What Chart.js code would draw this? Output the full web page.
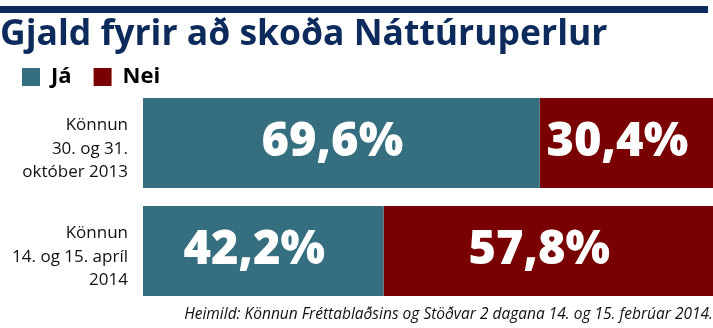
<!DOCTYPE html>
<html>
<head>
<meta charset="utf-8">
<script src="https://cdn.jsdelivr.net/npm/chart.js@4/dist/chart.umd.min.js"></script>
<style>
  html, body { margin: 0; padding: 0; background: #fff; }
  #wrap { width: 713px; height: 328px; }
</style>
</head>
<body>
<div id="wrap"><canvas id="myChart" width="713" height="328"></canvas></div>
<script>
// Gögn úr myndinni
const kannanir = [
  ['Könnun', '30. og 31.', 'október 2013'],
  ['Könnun', '14. og 15. apríl', '2014']
];
const ja = [69.6, 42.2];
const nei = [30.4, 57.8];

const navy = '#0c2b5c';
const teal = '#346e7f';
const rautt = '#7a0101';

// lína efst
const topRule = {
  id: 'topRule',
  beforeDraw(chart) {
    const c = chart.ctx;
    c.save();
    c.fillStyle = navy;
    c.fillRect(0, 6, 708, 7);
    c.restore();
  }
};

// prósentutölur inni í súlunum
const barLabels = {
  id: 'barLabels',
  afterDatasetsDraw(chart) {
    const c = chart.ctx;
    c.save();
    c.fillStyle = '#fff';
    c.font = '800 47px "Open Sans"';
    c.textAlign = 'center';
    c.textBaseline = 'middle';
    chart.data.datasets.forEach((ds, i) => {
      chart.getDatasetMeta(i).data.forEach((bar, j) => {
        const p = bar.getProps(['x', 'y', 'base'], true);
        const txt = ds.data[j].toFixed(1).replace('.', ',') + '%';
        c.fillText(txt, (p.x + p.base) / 2 - 9, p.y);
      });
    });
    c.restore();
  }
};

const ctx = document.getElementById('myChart').getContext('2d');
let chart = new Chart(ctx, {
  type: 'bar',
  data: {
    labels: kannanir,
    datasets: [
      { label: 'Já', data: ja, backgroundColor: teal, borderWidth: 0 },
      { label: 'Nei', data: nei, backgroundColor: rautt, borderWidth: 0 }
    ]
  },
  options: {
    indexAxis: 'y',
    responsive: false,
    animation: false,
    layout: { padding: 0 },
    barPercentage: 0.833,
    categoryPercentage: 1,
    scales: {
      x: { stacked: true, min: 0, max: 100, display: false },
      y: {
        stacked: true,
        grid: { display: false, drawTicks: false },
        border: { display: false },
        ticks: {
          color: '#111',
          font: { family: '"Open Sans"', size: 17, lineHeight: 1.38 },
          padding: 15,
          labelOffset: 6
        },
        afterFit(axis) {
          axis.width = 143;
          axis.paddingTop = 0;
          axis.paddingBottom = 0;
        }
      }
    },
    plugins: {
      title: {
        display: true,
        text: 'Gjald fyrir að skoða Náttúruperlur',
        align: 'start',
        color: navy,
        font: { family: '"Open Sans"', size: 35.5, weight: 'bold', lineHeight: 1 },
        padding: { top: 17.5, bottom: -9 }
      },
      legend: {
        display: true,
        align: 'start',
        maxHeight: 45,
        labels: {
          color: '#000',
          boxWidth: 18,
          boxHeight: 18,
          padding: 22,
          font: { family: '"Open Sans"', size: 22, weight: 'bold' }
        }
      },
      subtitle: {
        display: true,
        position: 'bottom',
        align: 'end',
        text: 'Heimild: Könnun Fréttablaðsins og Stöðvar 2 dagana 14. og 15. febrúar 2014.',
        color: '#111',
        font: { family: '"Open Sans"', size: 15.5, style: 'italic', lineHeight: 1.2 },
        padding: { top: 0, bottom: 4.4 }
      },
      tooltip: { enabled: false }
    }
  },
  plugins: [topRule, barLabels]
});
</script>
</body>
</html>
